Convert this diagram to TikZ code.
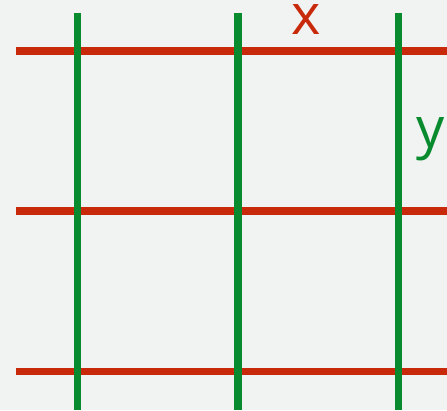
\documentclass[tikz,border=0pt]{standalone}
\usepackage{fontspec}
\setmainfont{Open Sans}
\definecolor{bg}{HTML}{F1F2F2}
\definecolor{gridred}{HTML}{C8290A}
\definecolor{gridgreen}{HTML}{088A2E}
\begin{document}
\begin{tikzpicture}[x=1pt,y=1pt,
  redline/.style={draw=gridred,line width=7.5pt},
  greenline/.style={draw=gridgreen,line width=7.5pt},
  lbl/.style={font=\fontsize{56}{56}\selectfont,inner sep=0pt,anchor=base}]
\fill[bg] (0,0) rectangle (447,410);
\useasboundingbox (0,0) rectangle (447,410);
% red horizontal lines
\coordinate (r1a) at (16,359); \coordinate (r1b) at (447,359);
\coordinate (r2a) at (16,199); \coordinate (r2b) at (447,199);
\coordinate (r3a) at (16,38.5); \coordinate (r3b) at (447,38.5);
\draw[redline] (r1a) -- (r1b);
\draw[redline] (r2a) -- (r2b);
\draw[redline] (r3a) -- (r3b);
% green vertical lines
\coordinate (g1a) at (77.5,397); \coordinate (g1b) at (77.5,0);
\coordinate (g2a) at (238,397); \coordinate (g2b) at (238,0);
\coordinate (g3a) at (398.5,397); \coordinate (g3b) at (398.5,0);
\draw[greenline] (g1a) -- (g1b);
\draw[greenline] (g2a) -- (g2b);
\draw[greenline] (g3a) -- (g3b);
% labels
\node[lbl,text=gridred] (xl) at (306,375) {x};
\node[lbl,text=gridgreen] (yl) at (431,262) {y};
\end{tikzpicture}
\end{document}
